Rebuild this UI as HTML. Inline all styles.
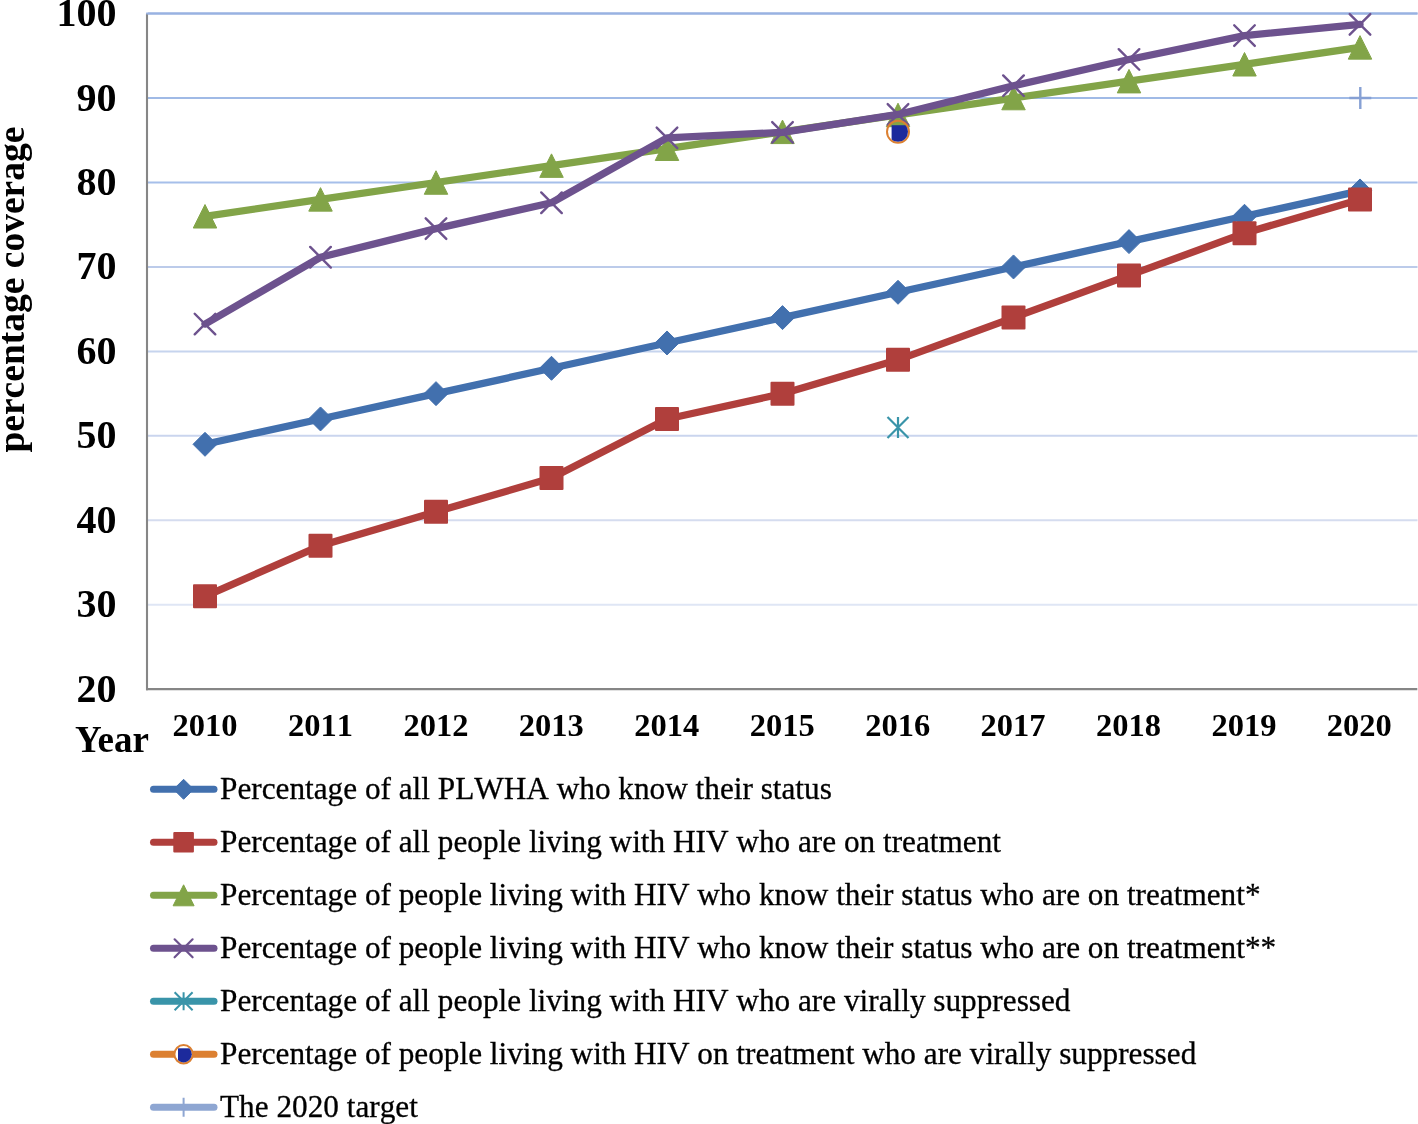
<!DOCTYPE html><html><head><meta charset="utf-8"><style>html,body{margin:0;padding:0;background:#fff;width:1418px;height:1124px;overflow:hidden}svg{display:block;will-change:transform}text{font-family:"Liberation Serif",serif;font-kerning:none}</style></head><body>
<svg width="1418" height="1124" viewBox="0 0 1418 1124">
<line x1="148" y1="13.60" x2="1417.5" y2="13.60" stroke="#98b2e2" stroke-width="2"/>
<line x1="148" y1="98.05" x2="1417.5" y2="98.05" stroke="#a0bae6" stroke-width="2"/>
<line x1="148" y1="182.50" x2="1417.5" y2="182.50" stroke="#a6bfea" stroke-width="2"/>
<line x1="148" y1="266.95" x2="1417.5" y2="266.95" stroke="#bccbea" stroke-width="2"/>
<line x1="148" y1="351.40" x2="1417.5" y2="351.40" stroke="#c6d4ee" stroke-width="2"/>
<line x1="148" y1="435.85" x2="1417.5" y2="435.85" stroke="#cad5ee" stroke-width="2"/>
<line x1="148" y1="520.30" x2="1417.5" y2="520.30" stroke="#d5dcef" stroke-width="2"/>
<line x1="148" y1="604.75" x2="1417.5" y2="604.75" stroke="#dfe6f5" stroke-width="2"/>
<line x1="147.0" y1="13.60" x2="147.0" y2="690.30" stroke="#868686" stroke-width="2.1"/>
<line x1="146.0" y1="689.20" x2="1417.3" y2="689.20" stroke="#868686" stroke-width="2.3"/>
<line x1="146.2" y1="13.60" x2="1417.5" y2="13.60" stroke="#98b2e2" stroke-width="2"/>
<polyline points="205.00,444.30 320.50,418.96 436.00,393.63 551.50,368.29 667.00,342.96 782.50,317.62 898.00,292.29 1013.50,266.95 1129.00,241.62 1244.50,216.28 1360.00,190.94" fill="none" stroke="#4270ae" stroke-width="7.3" stroke-linejoin="round" stroke-linecap="round"/>
<path d="M205.00,432.30L217.00,444.30L205.00,456.30L193.00,444.30Z" fill="#4270ae" stroke="#4270ae" stroke-width="1" stroke-linejoin="round"/>
<path d="M320.50,406.96L332.50,418.96L320.50,430.96L308.50,418.96Z" fill="#4270ae" stroke="#4270ae" stroke-width="1" stroke-linejoin="round"/>
<path d="M436.00,381.63L448.00,393.63L436.00,405.63L424.00,393.63Z" fill="#4270ae" stroke="#4270ae" stroke-width="1" stroke-linejoin="round"/>
<path d="M551.50,356.29L563.50,368.29L551.50,380.29L539.50,368.29Z" fill="#4270ae" stroke="#4270ae" stroke-width="1" stroke-linejoin="round"/>
<path d="M667.00,330.96L679.00,342.96L667.00,354.96L655.00,342.96Z" fill="#4270ae" stroke="#4270ae" stroke-width="1" stroke-linejoin="round"/>
<path d="M782.50,305.62L794.50,317.62L782.50,329.62L770.50,317.62Z" fill="#4270ae" stroke="#4270ae" stroke-width="1" stroke-linejoin="round"/>
<path d="M898.00,280.29L910.00,292.29L898.00,304.29L886.00,292.29Z" fill="#4270ae" stroke="#4270ae" stroke-width="1" stroke-linejoin="round"/>
<path d="M1013.50,254.95L1025.50,266.95L1013.50,278.95L1001.50,266.95Z" fill="#4270ae" stroke="#4270ae" stroke-width="1" stroke-linejoin="round"/>
<path d="M1129.00,229.62L1141.00,241.62L1129.00,253.62L1117.00,241.62Z" fill="#4270ae" stroke="#4270ae" stroke-width="1" stroke-linejoin="round"/>
<path d="M1244.50,204.28L1256.50,216.28L1244.50,228.28L1232.50,216.28Z" fill="#4270ae" stroke="#4270ae" stroke-width="1" stroke-linejoin="round"/>
<path d="M1360.00,178.94L1372.00,190.94L1360.00,202.94L1348.00,190.94Z" fill="#4270ae" stroke="#4270ae" stroke-width="1" stroke-linejoin="round"/>
<polyline points="205.00,596.31 320.50,545.63 436.00,511.86 551.50,478.08 667.00,418.96 782.50,393.63 898.00,359.85 1013.50,317.62 1129.00,275.40 1244.50,233.17 1360.00,199.39" fill="none" stroke="#b03f3c" stroke-width="7.3" stroke-linejoin="round" stroke-linecap="round"/>
<rect x="193.00" y="584.31" width="24" height="24" rx="1" fill="#b03f3c"/>
<rect x="308.50" y="533.63" width="24" height="24" rx="1" fill="#b03f3c"/>
<rect x="424.00" y="499.86" width="24" height="24" rx="1" fill="#b03f3c"/>
<rect x="539.50" y="466.08" width="24" height="24" rx="1" fill="#b03f3c"/>
<rect x="655.00" y="406.96" width="24" height="24" rx="1" fill="#b03f3c"/>
<rect x="770.50" y="381.63" width="24" height="24" rx="1" fill="#b03f3c"/>
<rect x="886.00" y="347.85" width="24" height="24" rx="1" fill="#b03f3c"/>
<rect x="1001.50" y="305.62" width="24" height="24" rx="1" fill="#b03f3c"/>
<rect x="1117.00" y="263.40" width="24" height="24" rx="1" fill="#b03f3c"/>
<rect x="1232.50" y="221.17" width="24" height="24" rx="1" fill="#b03f3c"/>
<rect x="1348.00" y="187.39" width="24" height="24" rx="1" fill="#b03f3c"/>
<polyline points="205.00,216.28 320.50,199.39 436.00,182.50 551.50,165.61 667.00,148.72 782.50,131.83 898.00,114.94 1013.50,98.05 1129.00,81.16 1244.50,64.27 1360.00,47.38" fill="none" stroke="#82a448" stroke-width="7.3" stroke-linejoin="round" stroke-linecap="round"/>
<path d="M205.00,204.53L216.75,228.03L193.25,228.03Z" fill="#82a448" stroke="#82a448" stroke-width="1" stroke-linejoin="round"/>
<path d="M320.50,187.64L332.25,211.14L308.75,211.14Z" fill="#82a448" stroke="#82a448" stroke-width="1" stroke-linejoin="round"/>
<path d="M436.00,170.75L447.75,194.25L424.25,194.25Z" fill="#82a448" stroke="#82a448" stroke-width="1" stroke-linejoin="round"/>
<path d="M551.50,153.86L563.25,177.36L539.75,177.36Z" fill="#82a448" stroke="#82a448" stroke-width="1" stroke-linejoin="round"/>
<path d="M667.00,136.97L678.75,160.47L655.25,160.47Z" fill="#82a448" stroke="#82a448" stroke-width="1" stroke-linejoin="round"/>
<path d="M782.50,120.08L794.25,143.58L770.75,143.58Z" fill="#82a448" stroke="#82a448" stroke-width="1" stroke-linejoin="round"/>
<path d="M898.00,103.19L909.75,126.69L886.25,126.69Z" fill="#82a448" stroke="#82a448" stroke-width="1" stroke-linejoin="round"/>
<path d="M1013.50,86.30L1025.25,109.80L1001.75,109.80Z" fill="#82a448" stroke="#82a448" stroke-width="1" stroke-linejoin="round"/>
<path d="M1129.00,69.41L1140.75,92.91L1117.25,92.91Z" fill="#82a448" stroke="#82a448" stroke-width="1" stroke-linejoin="round"/>
<path d="M1244.50,52.52L1256.25,76.02L1232.75,76.02Z" fill="#82a448" stroke="#82a448" stroke-width="1" stroke-linejoin="round"/>
<path d="M1360.00,35.63L1371.75,59.13L1348.25,59.13Z" fill="#82a448" stroke="#82a448" stroke-width="1" stroke-linejoin="round"/>
<polyline points="205.00,324.04 320.50,257.24 436.00,228.61 551.50,202.77 667.00,137.83 782.50,132.34 898.00,114.43 1013.50,85.72 1129.00,59.46 1244.50,35.56 1360.00,24.33" fill="none" stroke="#6d528e" stroke-width="7.3" stroke-linejoin="round" stroke-linecap="round"/>
<path d="M194.70,313.74L215.30,334.34M215.30,313.74L194.70,334.34" stroke="#6d528e" stroke-width="2.4" fill="none" stroke-linecap="round"/>
<path d="M310.20,246.94L330.80,267.54M330.80,246.94L310.20,267.54" stroke="#6d528e" stroke-width="2.4" fill="none" stroke-linecap="round"/>
<path d="M425.70,218.31L446.30,238.91M446.30,218.31L425.70,238.91" stroke="#6d528e" stroke-width="2.4" fill="none" stroke-linecap="round"/>
<path d="M541.20,192.47L561.80,213.07M561.80,192.47L541.20,213.07" stroke="#6d528e" stroke-width="2.4" fill="none" stroke-linecap="round"/>
<path d="M656.70,127.53L677.30,148.13M677.30,127.53L656.70,148.13" stroke="#6d528e" stroke-width="2.4" fill="none" stroke-linecap="round"/>
<path d="M772.20,122.04L792.80,142.64M792.80,122.04L772.20,142.64" stroke="#6d528e" stroke-width="2.4" fill="none" stroke-linecap="round"/>
<path d="M887.70,104.13L908.30,124.73M908.30,104.13L887.70,124.73" stroke="#6d528e" stroke-width="2.4" fill="none" stroke-linecap="round"/>
<path d="M1003.20,75.42L1023.80,96.02M1023.80,75.42L1003.20,96.02" stroke="#6d528e" stroke-width="2.4" fill="none" stroke-linecap="round"/>
<path d="M1118.70,49.16L1139.30,69.76M1139.30,49.16L1118.70,69.76" stroke="#6d528e" stroke-width="2.4" fill="none" stroke-linecap="round"/>
<path d="M1234.20,25.26L1254.80,45.86M1254.80,25.26L1234.20,45.86" stroke="#6d528e" stroke-width="2.4" fill="none" stroke-linecap="round"/>
<path d="M1349.70,14.03L1370.30,34.63M1370.30,14.03L1349.70,34.63" stroke="#6d528e" stroke-width="2.4" fill="none" stroke-linecap="round"/>
<path d="M887.50,416.91L908.50,437.91M908.50,416.91L887.50,437.91M898.00,416.91L898.00,437.91" stroke="#3994a9" stroke-width="2.2" fill="none"/>
<clipPath id="cc1"><circle cx="898.00" cy="131.83" r="10.00"/></clipPath><circle cx="898.00" cy="131.83" r="11" fill="none" stroke="#dc8031" stroke-width="2"/><rect x="891.60" y="125.23" width="30" height="30" fill="#1c2a9c" clip-path="url(#cc1)"/>
<path d="M1349.30,98.05L1371.30,98.05M1360.30,87.05L1360.30,109.05" stroke="#86a0d4" stroke-width="2.4" fill="none"/>
<text x="116.5" y="701.70" font-size="40" font-weight="bold" text-anchor="end">20</text>
<text x="116.5" y="617.25" font-size="40" font-weight="bold" text-anchor="end">30</text>
<text x="116.5" y="532.80" font-size="40" font-weight="bold" text-anchor="end">40</text>
<text x="116.5" y="448.35" font-size="40" font-weight="bold" text-anchor="end">50</text>
<text x="116.5" y="363.90" font-size="40" font-weight="bold" text-anchor="end">60</text>
<text x="116.5" y="279.45" font-size="40" font-weight="bold" text-anchor="end">70</text>
<text x="116.5" y="195.00" font-size="40" font-weight="bold" text-anchor="end">80</text>
<text x="116.5" y="110.55" font-size="40" font-weight="bold" text-anchor="end">90</text>
<text x="116.5" y="26.10" font-size="40" font-weight="bold" text-anchor="end">100</text>
<text x="205.05" y="735.8" font-size="32.5" font-weight="bold" text-anchor="middle">2010</text>
<text x="320.48" y="735.8" font-size="32.5" font-weight="bold" text-anchor="middle">2011</text>
<text x="435.91" y="735.8" font-size="32.5" font-weight="bold" text-anchor="middle">2012</text>
<text x="551.34" y="735.8" font-size="32.5" font-weight="bold" text-anchor="middle">2013</text>
<text x="666.77" y="735.8" font-size="32.5" font-weight="bold" text-anchor="middle">2014</text>
<text x="782.20" y="735.8" font-size="32.5" font-weight="bold" text-anchor="middle">2015</text>
<text x="897.63" y="735.8" font-size="32.5" font-weight="bold" text-anchor="middle">2016</text>
<text x="1013.06" y="735.8" font-size="32.5" font-weight="bold" text-anchor="middle">2017</text>
<text x="1128.49" y="735.8" font-size="32.5" font-weight="bold" text-anchor="middle">2018</text>
<text x="1243.92" y="735.8" font-size="32.5" font-weight="bold" text-anchor="middle">2019</text>
<text x="1359.35" y="735.8" font-size="32.5" font-weight="bold" text-anchor="middle">2020</text>
<text x="75" y="751.9" font-size="37" font-weight="bold" style="font-kerning:normal">Year</text>
<text transform="translate(23.8,289.6) rotate(-90)" x="0" y="0" font-size="37.5" font-weight="bold" text-anchor="middle">percentage coverage</text>
<line x1="153.5" y1="789.30" x2="214" y2="789.30" stroke="#4270ae" stroke-width="7" stroke-linecap="round"/>
<path d="M183.60,779.30L193.60,789.30L183.60,799.30L173.60,789.30Z" fill="#4270ae" stroke="#4270ae" stroke-width="1" stroke-linejoin="round"/>
<text x="220" y="799.30" font-size="31.25" stroke="#000" stroke-width="0.3">Percentage of all PLWHA who know their status</text>
<line x1="153.5" y1="842.30" x2="214" y2="842.30" stroke="#b03f3c" stroke-width="7" stroke-linecap="round"/>
<rect x="173.30" y="832.00" width="20.6" height="20.6" rx="1" fill="#b03f3c"/>
<text x="220" y="852.30" font-size="31.25" stroke="#000" stroke-width="0.3">Percentage of all people living with HIV who are on treatment</text>
<line x1="153.5" y1="895.30" x2="214" y2="895.30" stroke="#82a448" stroke-width="7" stroke-linecap="round"/>
<path d="M183.60,884.80L194.10,905.80L173.10,905.80Z" fill="#82a448" stroke="#82a448" stroke-width="1" stroke-linejoin="round"/>
<text x="220" y="905.30" font-size="31.25" stroke="#000" stroke-width="0.3">Percentage of people living with HIV who know their status who are on treatment*</text>
<line x1="153.5" y1="948.30" x2="214" y2="948.30" stroke="#6d528e" stroke-width="7" stroke-linecap="round"/>
<path d="M174.60,939.30L192.60,957.30M192.60,939.30L174.60,957.30" stroke="#6d528e" stroke-width="2.2" fill="none" stroke-linecap="round"/>
<text x="220" y="958.30" font-size="31.25" stroke="#000" stroke-width="0.3">Percentage of people living with HIV who know their status who are on treatment**</text>
<line x1="153.5" y1="1001.30" x2="214" y2="1001.30" stroke="#3994a9" stroke-width="7" stroke-linecap="round"/>
<path d="M174.60,992.30L192.60,1010.30M192.60,992.30L174.60,1010.30M183.60,992.30L183.60,1010.30" stroke="#3994a9" stroke-width="2" fill="none"/>
<text x="220" y="1011.30" font-size="31.25" stroke="#000" stroke-width="0.3">Percentage of all people living with HIV who are virally suppressed</text>
<line x1="153.5" y1="1054.30" x2="214" y2="1054.30" stroke="#dc8031" stroke-width="7" stroke-linecap="round"/>
<clipPath id="cc2"><circle cx="183.60" cy="1054.30" r="8.20"/></clipPath><circle cx="183.60" cy="1054.30" r="9.2" fill="#fff" stroke="#dc8031" stroke-width="2"/><rect x="178.00" y="1048.30" width="30" height="30" fill="#1c2a9c" clip-path="url(#cc2)"/>
<text x="220" y="1064.30" font-size="31.25" stroke="#000" stroke-width="0.3">Percentage of people living with HIV on treatment who are virally suppressed</text>
<line x1="153.5" y1="1107.30" x2="214" y2="1107.30" stroke="#8ea6d2" stroke-width="7" stroke-linecap="round"/>
<path d="M174.10,1107.30L193.10,1107.30M183.60,1097.80L183.60,1116.80" stroke="#8ea6d2" stroke-width="2" fill="none"/>
<text x="220" y="1117.30" font-size="31.25" stroke="#000" stroke-width="0.3">The 2020 target</text>
</svg></body></html>
